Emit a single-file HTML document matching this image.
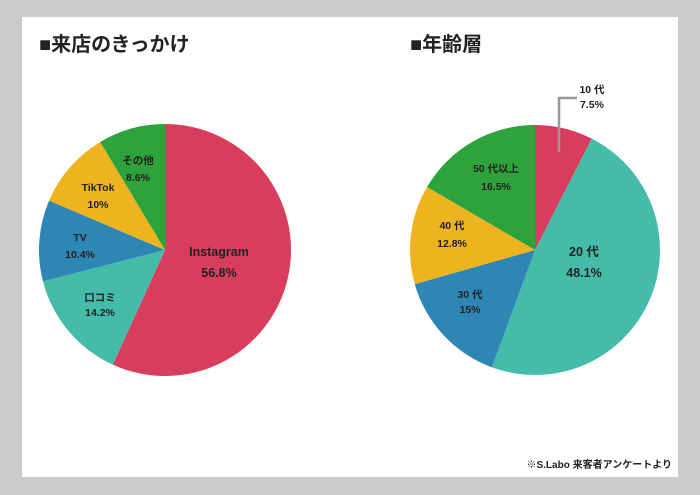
<!DOCTYPE html>
<html><head><meta charset="utf-8"><style>
html,body{margin:0;padding:0;background:#cbcbcb;}
svg{display:block}
text{font-family:"Liberation Sans","Noto Sans CJK JP",sans-serif;fill:#222;}
</style></head><body>
<svg id="s" width="700" height="495" xmlns="http://www.w3.org/2000/svg">
<rect x="0" y="0" width="700" height="495" fill="#cbcbcb"/>
<rect x="22" y="17" width="656" height="460" fill="#fff"/>
<text x="39" y="51" font-size="20" font-weight="bold">■来店のきっかけ</text>
<text x="410" y="51" font-size="20" font-weight="bold">■年齢層</text>
<g id="p1"></g><g id="p2"></g>
<polyline points="559,152 559,98 577,98" fill="none" stroke="#999" stroke-width="2.5"/>
<g font-size="10.5" font-weight="bold" text-anchor="middle">
<text x="219" y="256" font-size="12.5">Instagram</text><text x="219" y="277" font-size="12.5">56.8%</text>
<text x="100" y="301">口コミ</text><text x="100" y="316">14.2%</text>
<text x="80" y="241">TV</text><text x="80" y="258">10.4%</text>
<text x="98" y="191">TikTok</text><text x="98" y="208">10%</text>
<text x="138" y="164">その他</text><text x="138" y="181">8.6%</text>
<text x="592" y="93">10 代</text><text x="592" y="108">7.5%</text>
<text x="496" y="172">50 代以上</text><text x="496" y="190">16.5%</text>
<text x="452" y="229">40 代</text><text x="452" y="247">12.8%</text>
<text x="470" y="298">30 代</text><text x="470" y="313">15%</text>
<text x="584" y="256" font-size="12.5">20 代</text><text x="584" y="277" font-size="12.5">48.1%</text>
</g>
<text x="672" y="468" font-size="10" font-weight="bold" text-anchor="end">※S.Labo 来客者アンケートより</text>
</svg>
<script>
function pie(id,cx,cy,r,data){
 var g=document.getElementById(id),a=0,h='';
 data.forEach(function(d){
  var a0=a,a1=a+d[0]/100*2*Math.PI;a=a1;
  var x0=cx+r*Math.sin(a0),y0=cy-r*Math.cos(a0),x1=cx+r*Math.sin(a1),y1=cy-r*Math.cos(a1);
  h+='<path d="M'+cx+','+cy+' L'+x0+','+y0+' A'+r+','+r+' 0 '+((a1-a0)>Math.PI?1:0)+' 1 '+x1+','+y1+' Z" fill="'+d[1]+'"/>';
 });
 g.innerHTML=h;
}
var R='#d83d5d',T='#45bba9',B='#2e86b4',Y='#eeb420',G='#2ea33c';
pie('p1',165,250,126,[[56.8,R],[14.2,T],[10.4,B],[10,Y],[8.6,G]]);
pie('p2',535,250,125,[[7.5,R],[48.1,T],[15,B],[12.8,Y],[16.6,G]]);
</script>
</body></html>
